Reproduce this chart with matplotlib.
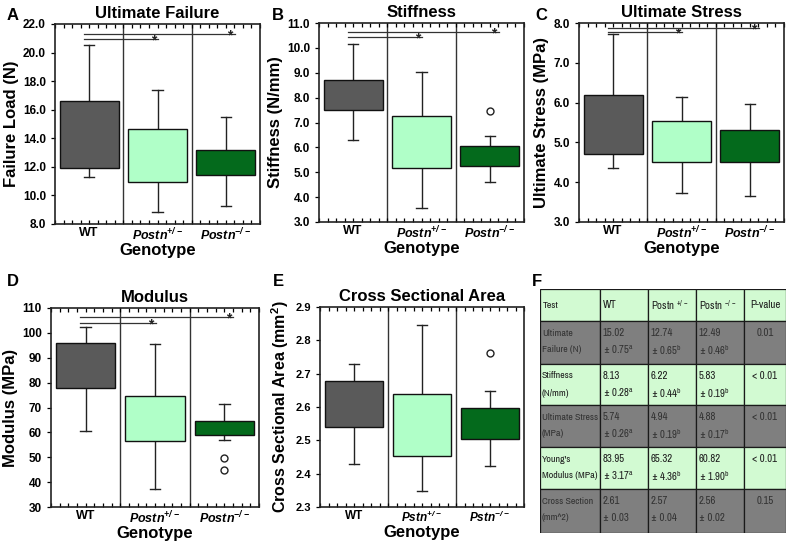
import matplotlib
matplotlib.use('Agg')
import matplotlib.pyplot as plt
from matplotlib import font_manager
from matplotlib.patches import Rectangle
from matplotlib.ticker import MultipleLocator, FormatStrFormatter

plt.rcParams['font.family'] = ['Liberation Sans', 'DejaVu Sans']
plt.rcParams['font.weight'] = 'bold'

# genotype groups
genotypes = ['WT', 'Postn', 'Postn']
genotype_sup = ['', '+/-', '-/-']
box_colors = ['#5a5a5a', '#b0ffc8', '#046a1c']

# box summaries per genotype: (whisker low, q1, median, q3, whisker high)
failure_box = [[11.3, 11.95, 15.15, 16.6, 20.5],
               [8.85, 10.95, 12.4, 14.65, 17.4],
               [9.25, 11.4, 12.45, 13.2, 15.5]]
failure_fliers = [[], [], []]
failure_sig = [20.95, 21.32]

stiff_box = [[6.28, 7.49, 7.92, 8.70, 10.15],
             [3.55, 5.18, 6.14, 7.25, 9.03],
             [4.62, 5.26, 5.83, 6.05, 6.46]]
stiff_fliers = [[], [], [7.46]]
stiff_sig = [10.44, 10.64]

stress_box = [[4.36, 4.70, 5.92, 6.19, 7.73],
              [3.73, 4.50, 4.80, 5.55, 6.13],
              [3.66, 4.52, 4.70, 5.31, 5.97]]
stress_fliers = [[], [], []]
stress_sig = [7.77, 7.87]

modulus_box = [[60.4, 77.8, 81.0, 95.8, 102.2],
               [37.2, 56.6, 66.9, 74.8, 95.4],
               [56.9, 58.8, 62.1, 64.4, 71.5]]
modulus_fliers = [[], [], [49.7, 44.9]]
modulus_sig = [104.0, 106.3]

area_box = [[2.429, 2.539, 2.627, 2.677, 2.728],
            [2.349, 2.453, 2.555, 2.638, 2.845],
            [2.423, 2.503, 2.555, 2.596, 2.647]]
area_fliers = [[], [], [2.762]]

# table F
table_header = ['Test', 'WT', 'Postn $\\mathregular{^{+/-}}$', 'Postn $\\mathregular{^{-/-}}$', 'P-value']
test_names = [['Ultimate', 'Failure (N)'], ['Stiffness', '(N/mm)'], ['Ultimate Stress', '(MPa)'],
              ["Young's", 'Modulus (MPa)'], ['Cross Section', '(mm^2)']]
wt_mean = ['15.02', '8.13', '5.74', '83.95', '2.61']
wt_sem = ['0.75', '0.28', '0.26', '3.17', '0.03']
het_mean = ['12.74', '6.22', '4.94', '65.32', '2.57']
het_sem = ['0.65', '0.44', '0.19', '4.36', '0.04']
ko_mean = ['12.49', '5.83', '4.88', '60.82', '2.56']
ko_sem = ['0.46', '0.19', '0.17', '1.90', '0.02']
wt_letter = ['a', 'a', 'a', 'a', '']
mut_letter = ['b', 'b', 'b', 'b', '']
p_values = ['0.01', '< 0.01', '< 0.01', '< 0.01', '0.15']

W, H = 787, 544
fig = plt.figure(figsize=(W / 100, H / 100), dpi=100)


def px_axes(x0, y0, x1, y1):
    return fig.add_axes([x0 / W, (H - y1) / H, (x1 - x0) / W, (y1 - y0) / H])


def narrow_font():
    # the table uses a narrow sans face, pick the best one that is installed
    best, best_score = None, 0
    for f in font_manager.fontManager.ttflist:
        name = (f.name + ' ' + f.fname).lower()
        if 'serif' in name.replace('sans-serif', '') or 'mono' in name:
            continue
        if f.style != 'normal' or f.weight not in (400, 'normal', 'regular'):
            continue
        score = 0
        if 'narrow' in name:
            score = 4
        elif 'condensed' in name and 'semi' not in name and 'extra' not in name:
            score = 3
        elif f.stretch in ('condensed', 'semi-condensed') or 'condensed' in name:
            score = 2
        if score > best_score:
            best, best_score = f, score
    return best


def box_panel(ax, boxes, fliers, title, ylabel, ylim, ystep, fmt, sig=None,
              names=genotypes, tick_size=9, ylabel_size=12):
    stats = []
    for b, f in zip(boxes, fliers):
        stats.append(dict(whislo=b[0], q1=b[1], med=b[2], q3=b[3], whishi=b[4], fliers=f))
    bp = ax.bxp(stats, positions=[1, 2, 3], widths=0.86, patch_artist=True, capwidths=0.15,
                boxprops=dict(edgecolor='#111111', linewidth=1.0),
                medianprops=dict(color='#111111', linewidth=1.0),
                whiskerprops=dict(color='#222222', linewidth=1.0),
                capprops=dict(color='#222222', linewidth=1.0),
                flierprops=dict(marker='o', markerfacecolor='white', markeredgecolor='#222222',
                                markersize=5, markeredgewidth=1.0))
    for patch, c in zip(bp['boxes'], box_colors):
        patch.set_facecolor(c)
        patch.set_zorder(3)
    for x in [1.5, 2.5]:
        ax.axvline(x, color='#333333', lw=1.0, zorder=1)
    if sig is not None:
        for end, y in zip([2.01, 3.13], sig):
            ax.plot([0.92, end], [y, y], color='#333333', lw=0.9, zorder=4)
            ax.annotate('*', (end - 0.07, y), xytext=(0, -3.8), textcoords='offset points',
                        ha='center', va='baseline', fontsize=10, color='#222222', zorder=4)
    ax.set_xlim(0.5, 3.5)
    ax.set_ylim(*ylim)
    ax.yaxis.set_major_locator(MultipleLocator(ystep))
    ax.yaxis.set_major_formatter(FormatStrFormatter(fmt))
    ax.set_xticks([1, 2, 3])
    labels = []
    for n, s in zip(names, genotype_sup):
        labels.append(n if s == '' else n + '$\\mathregular{^{' + s + '}}$')
    ax.set_xticklabels(labels, fontsize=tick_size, fontweight='bold')
    for i, lab in enumerate(ax.get_xticklabels()):
        if i > 0:
            lab.set_fontstyle('italic')
    ax.xaxis.set_minor_locator(MultipleLocator(0.125))
    ax.tick_params(axis='x', which='both', direction='in', top=True, bottom=True,
                   length=3, width=0.9, pad=2)
    ax.tick_params(axis='y', which='major', direction='out', length=3, width=0.9,
                   labelsize=tick_size - 0.5)
    for lab in ax.get_yticklabels():
        lab.set_fontweight('bold')
    for sp in ax.spines.values():
        sp.set_linewidth(1.2)
        sp.set_color('#222222')
    ax.set_title(title, fontsize=12, fontweight='bold', pad=4)
    ax.set_ylabel(ylabel, fontsize=ylabel_size, fontweight='bold', labelpad=3)
    ax.set_xlabel('Genotype', fontsize=12, fontweight='bold', labelpad=0)


axA = px_axes(55, 24, 260, 224)
box_panel(axA, failure_box, failure_fliers, 'Ultimate Failure', 'Failure Load (N)',
          (8, 22), 2, '%.1f', failure_sig)
axB = px_axes(319, 23, 524, 222)
box_panel(axB, stiff_box, stiff_fliers, 'Stiffness', 'Stiffness (N/mm)',
          (3, 11), 1, '%.1f', stiff_sig)
axC = px_axes(579, 23, 784, 222)
box_panel(axC, stress_box, stress_fliers, 'Ultimate Stress', 'Ultimate Stress (MPa)',
          (3, 8), 1, '%.1f', stress_sig)
axD = px_axes(51, 308, 259, 507)
box_panel(axD, modulus_box, modulus_fliers, 'Modulus', 'Modulus (MPa)',
          (30, 110), 10, '%d', modulus_sig)
axE = px_axes(320, 307, 524, 507)
box_panel(axE, area_box, area_fliers, 'Cross Sectional Area',
          'Cross Sectional Area (mm$\\mathregular{^2}$)', (2.3, 2.9), 0.1, '%.1f',
          names=['WT', 'Pstn', 'Pstn'], tick_size=8.5, ylabel_size=11.5)

# panel letters
for letter, x, y in [('A', 13, 16), ('B', 278, 16), ('C', 541, 16),
                     ('D', 13, 282), ('E', 278, 282), ('F', 537, 282)]:
    fig.text(x / W, 1 - y / H, letter, fontsize=12, fontweight='bold', ha='center', va='center')

# table F
nf = narrow_font()
base_size = 7.8
if nf is not None:
    tprop = font_manager.FontProperties(fname=nf.fname, size=base_size)
else:
    tprop = font_manager.FontProperties(family='Liberation Sans', weight='normal', size=base_size)

col_x = [540, 600, 648, 696, 744, 786]
row_y = [289, 321, 364, 405, 447, 489, 533]
axF = px_axes(col_x[0], row_y[0], col_x[-1], row_y[-1])
axF.set_xlim(col_x[0], col_x[-1])
axF.set_ylim(row_y[-1], row_y[0])
axF.axis('off')
green, grey = '#d2fad2', '#7f7f7f'
cell_texts = []  # (text, column)


def cell_text(c, x, y, s, color, ha='left'):
    t = axF.text(x, y, s, ha=ha, va='center', color=color, fontproperties=tprop)
    cell_texts.append((t, c))


for r in range(6):
    color = grey if r % 2 == 1 else green
    txt_color = '#333333' if r % 2 == 1 else '#1e1e1e'
    for c in range(5):
        axF.add_patch(Rectangle((col_x[c], row_y[r]), col_x[c + 1] - col_x[c],
                                row_y[r + 1] - row_y[r], facecolor=color,
                                edgecolor='#1a1a1a', lw=0.9))
    if r == 0:
        for c, h in enumerate(table_header):
            if c == 4:
                cell_text(c, (col_x[4] + col_x[5]) / 2, row_y[0] + 16, h, txt_color, 'center')
            else:
                cell_text(c, col_x[c] + 3, row_y[0] + 16, h, txt_color)
        continue
    i = r - 1
    y1 = row_y[r] + 12
    y2 = row_y[r] + 29
    cell_text(0, col_x[0] + 2, y1, test_names[i][0], txt_color)
    cell_text(0, col_x[0] + 2, y2, test_names[i][1], txt_color)
    cols = [(wt_mean, wt_sem, wt_letter), (het_mean, het_sem, mut_letter),
            (ko_mean, ko_sem, mut_letter)]
    for c, (m, s, l) in enumerate(cols, start=1):
        cell_text(c, col_x[c] + 3, y1, m[i], txt_color)
        sem = '\u00b1 ' + s[i]
        if l[i]:
            sem += '$\\mathregular{^' + l[i] + '}$'
        cell_text(c, col_x[c] + 3, y2, sem, txt_color)
    cell_text(4, (col_x[4] + col_x[5]) / 2, y1, p_values[i], txt_color, 'center')

# shrink the table font per column until every text fits in its cell
fig.canvas.draw()
renderer = fig.canvas.get_renderer()
ratios = [1.0] * 5
for t, c in cell_texts:
    wdt = t.get_window_extent(renderer).width
    room = col_x[c + 1] - col_x[c] - 4
    ratios[c] = min(ratios[c], room / wdt)
for t, c in cell_texts:
    if ratios[c] < 1.0:
        t.set_fontsize(base_size * ratios[c])

fig.savefig('out.png', dpi=100)
